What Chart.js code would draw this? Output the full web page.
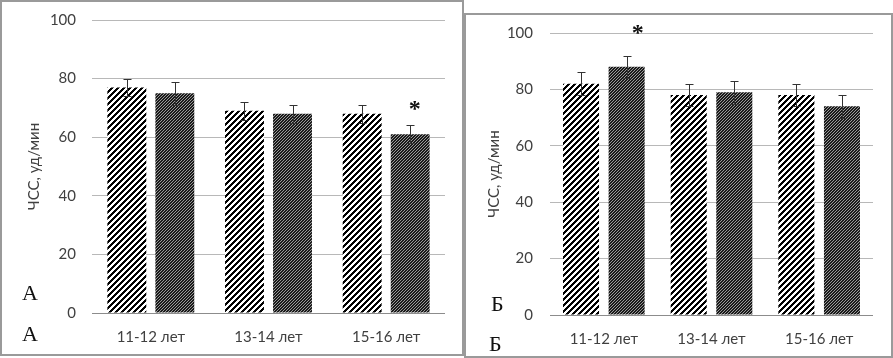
<!DOCTYPE html>
<html>
<head>
<meta charset="utf-8">
<script src="https://cdn.jsdelivr.net/npm/chart.js@4"></script>
<style>
  body { margin: 0; width: 893px; height: 358px; background: #fff; position: relative; overflow: hidden; }
  .frame { position: absolute; border: 2px solid #9a9a9a; box-sizing: border-box; }
  .wrap { position: absolute; }
  .letter { position: absolute; font-family: "Liberation Serif", "DejaVu Serif", serif; font-size: 22px; line-height: 1; color: #111; }
</style>
</head>
<body>
<div class="frame" style="left:0;top:0;width:464px;height:356px"></div>
<div class="frame" style="left:464px;top:13px;width:429px;height:345px"></div>
<div class="wrap" style="left:3px;top:3px;width:458px;height:350px"><canvas id="chartA"></canvas></div>
<div class="wrap" style="left:467px;top:16px;width:423px;height:338px"><canvas id="chartB"></canvas></div>
<div class="letter" style="left:22px;top:282px">А</div>
<div class="letter" style="left:22px;top:323px">А</div>
<div class="letter" style="left:491px;top:293px">Б</div>
<div class="letter" style="left:489px;top:333px">Б</div>

<script>
// Data
const ageGroups = ['11-12 лет', '13-14 лет', '15-16 лет'];
const yTicks = [0, 20, 40, 60, 80, 100];

// Panel А
const hrA1 = [77, 69, 68];
const hrA2 = [75, 68, 61];
const errA1 = [3, 3, 3];
const errA2 = [4, 3, 3];
const starsA = [{ ds: 1, idx: 2 }];

// Panel Б
const hrB1 = [82, 78, 78];
const hrB2 = [88, 79, 74];
const errB1 = [4, 4, 4];
const errB2 = [4, 4, 4];
const starsB = [{ ds: 1, idx: 0 }];

const axisTitle = 'ЧСС, уд/мин';
const textColor = '#404040';

// hatch patterns: "/" diagonal lines
function makeHatch(size, width, lineColor, bgColor) {
    const c = document.createElement('canvas');
    c.width = size; c.height = size;
    const g = c.getContext('2d');
    const img = g.createImageData(size, size);
    const fg = hexToRgb(lineColor), bg = hexToRgb(bgColor);
    for (let y = 0; y < size; y++) {
        for (let x = 0; x < size; x++) {
            const on = ((x + y) % size) < width;
            const col = on ? fg : bg;
            const k = (y * size + x) * 4;
            img.data[k] = col[0]; img.data[k + 1] = col[1]; img.data[k + 2] = col[2]; img.data[k + 3] = 255;
        }
    }
    g.putImageData(img, 0, 0);
    return g.createPattern(c, 'repeat');
}

function hexToRgb(h) {
    const n = parseInt(h.slice(1), 16);
    return [(n >> 16) & 255, (n >> 8) & 255, n & 255];
}

// error bars + asterisks
const extrasPlugin = {
    id: 'extras',
    afterDatasetsDraw(chart, args, opts) {
        const ctx = chart.ctx;
        const yScale = chart.scales.y;
        ctx.save();
        ctx.strokeStyle = '#333';
        ctx.lineWidth = 1;
        chart.data.datasets.forEach((ds, i) => {
            const meta = chart.getDatasetMeta(i);
            meta.data.forEach((bar, j) => {
                const v = ds.data[j], e = ds.errors[j];
                const x = Math.round(bar.x) + 0.5;
                const yt = Math.round(yScale.getPixelForValue(v + e)) + 0.5;
                const yb = Math.round(yScale.getPixelForValue(v - e)) + 0.5;
                ctx.beginPath();
                ctx.moveTo(x, yt); ctx.lineTo(x, yb);
                ctx.moveTo(x - 4, yt); ctx.lineTo(x + 4, yt);
                ctx.moveTo(x - 4, yb); ctx.lineTo(x + 4, yb);
                ctx.stroke();
            });
        });
        ctx.fillStyle = '#111';
        ctx.font = 'bold 24px "Liberation Serif", serif';
        ctx.textAlign = 'center';
        ctx.textBaseline = 'alphabetic';
        opts.stars.forEach(s => {
            const ds = chart.data.datasets[s.ds];
            const bar = chart.getDatasetMeta(s.ds).data[s.idx];
            const yt = yScale.getPixelForValue(ds.data[s.idx] + ds.errors[s.idx]);
            ctx.fillText('*', bar.x + opts.dx, yt + opts.dy + 11);
        });
        ctx.restore();
    }
};

function buildChart(id, s1, s2, e1, e2, layout) {
    const canvas = document.getElementById(id);
    return new Chart(canvas, {
        type: 'bar',
        data: {
            labels: ageGroups,
            datasets: [{
                data: s1,
                errors: e1,
                backgroundColor: makeHatch(6, 3, '#000000', '#ffffff'),
                borderWidth: 0,
                categoryPercentage: layout.cp,
                barPercentage: layout.bp
            }, {
                data: s2,
                errors: e2,
                backgroundColor: makeHatch(3, 2, '#1a1a1a', '#9a9a9a'),
                borderWidth: 0,
                categoryPercentage: layout.cp,
                barPercentage: layout.bp
            }]
        },
        options: {
            responsive: true,
            maintainAspectRatio: false,
            animation: false,
            events: [],
            layout: { padding: { top: layout.top, right: layout.right, left: 0, bottom: 0 } },
            plugins: {
                legend: { display: false },
                tooltip: { enabled: false },
                extras: { stars: layout.stars, dx: layout.starDx, dy: layout.starDy }
            },
            scales: {
                x: {
                    grid: { display: false, drawTicks: false },
                    border: { display: false },
                    ticks: { color: textColor, padding: layout.xPad, font: { family: 'Lato', size: 15 } },
                    afterFit: s => {
                        s.height = layout.xHeight;
                        s.paddingLeft = 0; s.paddingRight = 0;
                    }
                },
                y: {
                    min: 0,
                    max: 100,
                    afterBuildTicks: s => { s.ticks = yTicks.map(v => ({ value: v })); },
                    grid: {
                        drawTicks: false,
                        color: c => c.tick.value === 0 ? '#8c8c8c' : '#b8b8b8',
                        lineWidth: 1
                    },
                    border: { display: false },
                    ticks: { color: textColor, padding: layout.tickPad, font: { family: 'Lato', size: 15 } },
                    title: {
                        display: true,
                        text: axisTitle,
                        color: textColor,
                        font: { family: 'Lato', size: 15 },
                        padding: { top: layout.titlePad, bottom: 0 }
                    },
                    afterFit: s => {
                        s.width = layout.yWidth;
                        s.paddingTop = 0; s.paddingBottom = 0;
                    }
                }
            }
        },
        plugins: [extrasPlugin]
    });
}

buildChart('chartA', hrA1, hrA2, errA1, errA2, {
    cp: 0.816, bp: 0.81, top: 17, right: 16, xHeight: 40, yWidth: 89, xPad: 15,
    tickPad: 16, titlePad: 22, stars: starsA, starDx: 4.5, starDy: -20
});
buildChart('chartB', hrB1, hrB2, errB1, errB2, {
    cp: 0.847, bp: 0.79, top: 17, right: 17, xHeight: 39, yWidth: 83, xPad: 15,
    tickPad: 17, titlePad: 18, stars: starsB, starDx: 11, starDy: -27
});
</script>
</body>
</html>
